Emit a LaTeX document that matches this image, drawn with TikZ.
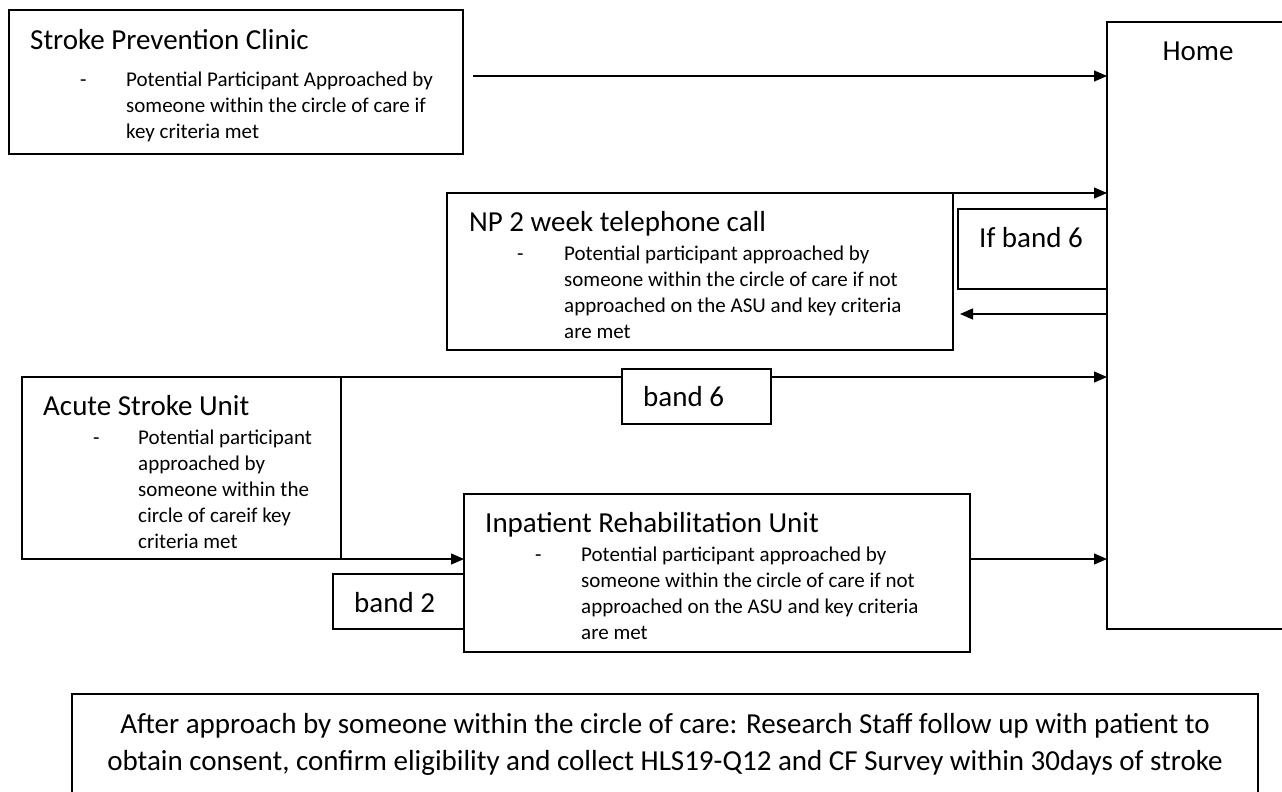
\documentclass[tikz,border=0pt]{standalone}
\usepackage{fontspec}
\setmainfont{Carlito}
\usetikzlibrary{arrows.meta}

% heading and body text sizes used in the boxes
\newcommand{\headfont}{\fontsize{29}{35}\selectfont}
\newcommand{\itemfont}{\fontsize{21}{26}\selectfont}
\newcommand{\itemlines}[2]{\parbox[t]{#1}{\itemfont\raggedright #2}}

\begin{document}
\begin{tikzpicture}[x=1pt,y=-1pt,
  frame/.style={draw, line width=1.2pt, fill=white, inner sep=0pt, outer sep=0pt,
    anchor=north west, minimum width=#1},
  head/.style={anchor=base west, inner sep=0pt, font=\headfont},
  itemtxt/.style={anchor=base west, inner sep=0pt},
  dashmark/.style={anchor=base west, inner sep=0pt, font=\itemfont},
  arr/.style={line width=1.2pt, -{Triangle[length=13pt,width=11pt]}}]

\useasboundingbox (0,0) rectangle (1282,792);
\clip (0,0) rectangle (1282,792);

% ---- boxes ----
\node[frame=454pt, minimum height=144pt] (spc) at (9,10) {};
\node[frame=200pt, minimum height=607pt] (home) at (1107,22) {};
\node[frame=506pt, minimum height=157pt] (np) at (447,193) {};
\node[frame=319pt, minimum height=182pt] (asu) at (22,377) {};
\node[frame=506pt, minimum height=158pt] (iru) at (464,494) {};
\node[frame=1186pt, minimum height=130pt] (note) at (72,694) {};

% ---- connectors ----
\coordinate (spcout) at (473,76);
\draw[arr] (spcout) -- (spcout -| home.west);
\draw[arr] (np.north east) -- (np.north east -| home.west);
\coordinate (npback) at (960,314);
\draw[arr] (npback -| home.west) -- (npback);
\draw[arr] (asu.north east) -- (asu.north east -| home.west);
\draw[arr] (asu.south east) -- (asu.south east -| iru.west);
\draw[arr] (iru.east |- asu.south east) -- (asu.south east -| home.west);

% ---- band labels ----
\node[frame=149pt, minimum height=80pt] (ifb) at (958,209) {};
\node[frame=149pt, minimum height=55pt] (bsix) at (622,369) {};
\node[frame=131pt, minimum height=55pt] (btwo) at (333,574) {};
\node[head] at (979,247) {If band 6};
\node[head] at (643,406) {band 6};
\node[head] at (354,612) {band 2};

% ---- Home ----
\node[font=\headfont, anchor=base, inner sep=0pt] at (1198,61) {Home};

% ---- Stroke Prevention Clinic ----
\node[head] at (30,49) {Stroke Prevention Clinic};
\node[dashmark] at (80,86) {-};
\node[itemtxt] at (126,86) {\itemlines{330pt}{Potential Participant Approached by\\someone within the circle of care if\\key criteria met}};

% ---- NP 2 week telephone call ----
\node[head] at (469,231) {NP 2 week telephone call};
\node[dashmark] at (517,260) {-};
\node[itemtxt] at (564,260) {\itemlines{380pt}{Potential participant approached by\\someone within the circle of care if not\\approached on the ASU and key criteria\\are met}};

% ---- Acute Stroke Unit ----
\node[head] at (43,415) {Acute Stroke Unit};
\node[dashmark] at (93,444) {-};
\node[itemtxt] at (138,444) {\itemlines{200pt}{Potential participant\\approached by\\someone within the\\circle of careif key\\criteria met}};

% ---- Inpatient Rehabilitation Unit ----
\node[head] at (485,532) {Inpatient Rehabilitation Unit};
\node[dashmark] at (535,561) {-};
\node[itemtxt] at (581,561) {\itemlines{380pt}{Potential participant approached by\\someone within the circle of care if not\\approached on the ASU and key criteria\\are met}};

% ---- follow-up note (anchored on the baseline of its last line) ----
\node[font=\headfont, align=center, inner sep=0pt, anchor=base] at (note.north |- 0,770)
  {After approach by someone within the circle of care: Research Staff follow up with patient to\\[2pt]
   obtain consent, confirm eligibility and collect HLS19-Q12 and CF Survey within 30days of stroke};

\end{tikzpicture}
\end{document}
